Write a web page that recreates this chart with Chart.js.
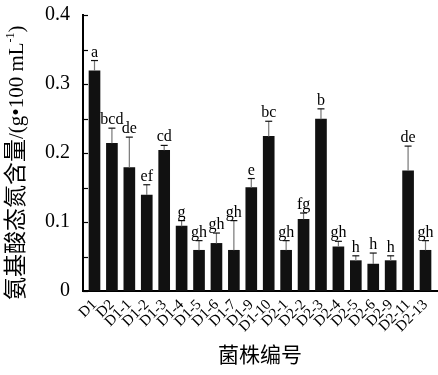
<!DOCTYPE html>
<html lang="zh">
<head>
<meta charset="UTF-8">
<title>氨基酸态氮含量</title>
<script src="https://cdn.jsdelivr.net/npm/chart.js"></script>
<style>
    html, body { margin: 0; padding: 0; background: #fff; }
    #wrap { width: 438px; height: 375px; }
</style>
</head>
<body>
<div id="wrap"><canvas id="chart"></canvas></div>
<script>
// 菌株编号
var strains = ['D1', 'D2', 'D1-1', 'D1-2', 'D1-3', 'D1-4', 'D1-5', 'D1-6', 'D1-7', 'D1-9',
    'D1-10', 'D2-1', 'D2-2', 'D2-3', 'D2-4', 'D2-5', 'D2-6', 'D2-9', 'D2-11', 'D2-13'];
// 氨基酸态氮含量 g/100 mL
var means = [0.319, 0.214, 0.179, 0.139, 0.204, 0.094, 0.059, 0.069, 0.059, 0.150,
    0.224, 0.059, 0.104, 0.249, 0.064, 0.044, 0.039, 0.044, 0.174, 0.059];
// 标准差
var sds = [0.015, 0.022, 0.044, 0.015, 0.007, 0.008, 0.014, 0.015, 0.043, 0.013,
    0.022, 0.014, 0.009, 0.015, 0.008, 0.007, 0.016, 0.007, 0.036, 0.014];
// 显著性字母
var letters = ['a', 'bcd', 'de', 'ef', 'cd', 'g', 'gh', 'gh', 'gh', 'e',
    'bc', 'gh', 'fg', 'b', 'gh', 'h', 'h', 'h', 'de', 'gh'];
var yTicks = [0, 0.1, 0.2, 0.3, 0.4];

var SERIF = '"Liberation Serif", "Times New Roman", serif';
var CJK = '"Noto Sans CJK SC", sans-serif';

// 误差线 + 字母
var errorBars = {
    id: 'errorBars',
    afterDatasetsDraw: function(chart) {
        var ctx = chart.ctx, xs = chart.scales.x, ys = chart.scales.y;
        ctx.save();
        means.forEach(function(m, i) {
            var x = xs.getPixelForValue(i);
            var y0 = ys.getPixelForValue(m);
            var y1 = ys.getPixelForValue(m + sds[i]);
            ctx.strokeStyle = '#777';
            ctx.lineWidth = 1.2;
            ctx.beginPath();
            ctx.moveTo(x, y0);
            ctx.lineTo(x, y1);
            ctx.stroke();
            ctx.strokeStyle = '#111';
            ctx.beginPath();
            ctx.moveTo(x - 3.5, y1);
            ctx.lineTo(x + 3.5, y1);
            ctx.stroke();
            ctx.fillStyle = '#000';
            ctx.font = '16px ' + SERIF;
            ctx.textAlign = 'center';
            ctx.textBaseline = 'alphabetic';
            ctx.fillText(letters[i], x, y1 - 4);
        });
        ctx.restore();
    }
};

// 内向刻度 + 纵轴标题
var axisExtras = {
    id: 'axisExtras',
    afterDraw: function(chart) {
        var ctx = chart.ctx, ys = chart.scales.y, left = chart.chartArea.left;
        ctx.save();
        ctx.strokeStyle = '#000';
        ctx.lineWidth = 1.2;
        for (var k = 0; k <= 8; k++) {
            var y = Math.round(ys.getPixelForValue(k * 0.05)) + 0.5;
            ctx.beginPath();
            ctx.moveTo(left, y);
            ctx.lineTo(left + 5, y);
            ctx.stroke();
        }
        // 纵轴标题，从下往上
        var parts = [
            { t: '氨基酸态氮含量', f: '23px ' + CJK, dy: 0 },
            { t: '/(g•100 mL', f: '21px ' + SERIF, dy: 0 },
            { t: '-1', f: '12px ' + SERIF, dy: -9 },
            { t: ')', f: '21px ' + SERIF, dy: 0 }
        ];
        ctx.translate(23, 300);
        ctx.rotate(-Math.PI / 2);
        ctx.fillStyle = '#000';
        ctx.textAlign = 'left';
        ctx.textBaseline = 'alphabetic';
        var x = 0;
        parts.forEach(function(p) {
            ctx.font = p.f;
            ctx.fillText(p.t, x, p.dy);
            x += ctx.measureText(p.t).width;
        });
        ctx.restore();
    }
};

var ctx = document.getElementById('chart').getContext('2d');
new Chart(ctx, {
    type: 'bar',
    data: {
        datasets: [{
            data: means.map(function(v, i) { return { x: i, y: v }; }),
            backgroundColor: '#111',
            barThickness: 11
        }]
    },
    options: {
        responsive: true,
        maintainAspectRatio: false,
        animation: false,
        layout: { padding: { top: 15, right: 1, left: 0, bottom: 0 } },
        plugins: {
            legend: { display: false },
            tooltip: { enabled: false }
        },
        scales: {
            x: {
                type: 'linear',
                offset: false,
                min: -0.66,
                max: 19.66,
                afterBuildTicks: function(s) {
                    s.ticks = strains.map(function(_, i) { return { value: i }; });
                },
                afterFit: function(s) {
                    s.height = 84;
                    s.paddingLeft = 0;
                    s.paddingRight = 0;
                },
                grid: { display: false, drawTicks: false },
                border: { display: true, color: '#000', width: 2 },
                ticks: {
                    autoSkip: false,
                    minRotation: 45,
                    maxRotation: 45,
                    padding: 5,
                    color: '#000',
                    font: { family: SERIF, size: 15 },
                    callback: function(v) { return strains[v]; }
                },
                title: {
                    display: true,
                    text: '菌株编号',
                    color: '#000',
                    font: { family: CJK, size: 21 },
                    padding: { top: 0, bottom: 8 }
                }
            },
            y: {
                min: 0,
                max: 0.4,
                afterBuildTicks: function(s) {
                    s.ticks = yTicks.map(function(v) { return { value: v }; });
                },
                afterFit: function(s) {
                    s.width = 83;
                    s.paddingTop = 0;
                    s.paddingBottom = 0;
                },
                grid: { display: false, drawTicks: false },
                border: { display: true, color: '#000', width: 2 },
                ticks: {
                    padding: 13,
                    color: '#000',
                    font: { family: SERIF, size: 20 },
                    callback: function(v) { return v === 0 ? '0' : v.toFixed(1); }
                }
            }
        }
    },
    plugins: [errorBars, axisExtras]
});
</script>
</body>
</html>
